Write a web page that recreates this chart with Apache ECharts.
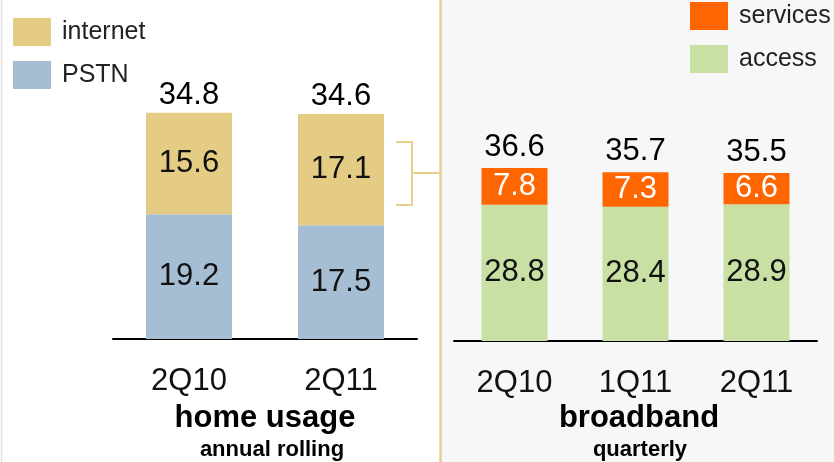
<!DOCTYPE html>
<html>
<head>
<meta charset="utf-8">
<script src="https://cdn.jsdelivr.net/npm/echarts@6/dist/echarts.min.js"></script>
<style>
  html, body { margin: 0; padding: 0; background: #fff; }
  #chart { width: 834px; height: 462px; }
</style>
</head>
<body>
<div id="chart"></div>
<script>
// home usage (annual rolling)
const homeCats = ['2Q10', '2Q11'];
const pstn = [19.2, 17.5];
const internet = [15.6, 17.1];
const homeTotals = ['34.8', '34.6'];

// broadband (quarterly)
const bbCats = ['2Q10', '1Q11', '2Q11'];
const access = [28.8, 28.4, 28.9];
const services = [7.8, 7.3, 6.6];
const bbTotals = ['36.6', '35.7', '35.5'];

const FONT = '"Liberation Sans", Arial, sans-serif';
const TAN = '#E8CF8C';

const chart = echarts.init(document.getElementById('chart'));

function totalSeries(name, axis, stack, totals) {
  return {
    name: name,
    type: 'bar',
    stack: stack,
    xAxisIndex: axis,
    yAxisIndex: axis,
    silent: true,
    itemStyle: { color: 'transparent' },
    data: totals.map(t => ({
      value: 0,
      label: { formatter: t }
    })),
    label: {
      show: true,
      position: 'top',
      distance: axis === 0 ? 2 : 5,
      fontFamily: FONT,
      fontSize: 31,
      color: '#000'
    }
  };
}

function insideLabel(color) {
  return {
    show: true,
    position: 'inside',
    fontFamily: FONT,
    fontSize: 31,
    color: color
  };
}

const catAxis = (idx, data) => ({
  type: 'category',
  gridIndex: idx,
  data: data,
  axisLine: { lineStyle: { color: '#000', width: 2 } },
  axisTick: { show: false },
  axisLabel: { margin: 27, fontFamily: FONT, fontSize: 31, color: '#111' }
});

const valAxis = idx => ({
  type: 'value',
  gridIndex: idx,
  min: 0,
  max: 50,
  show: false,
  splitLine: { show: false }
});

const legendText = { fontFamily: FONT, fontSize: 25, color: '#222', padding: [5, 0, 0, 6] };

chart.setOption({
  animation: false,
  backgroundColor: '#fff',
  grid: [
    { left: 113, width: 304, top: 14, height: 325 },
    { left: 454, width: 363, top: 104.5, height: 236.5 }
  ],
  xAxis: [catAxis(0, homeCats), catAxis(1, bbCats)],
  yAxis: [valAxis(0), valAxis(1)],
  legend: [
    {
      data: ['internet', 'PSTN'],
      orient: 'vertical',
      left: 13, top: 18, padding: 0,
      itemWidth: 38, itemHeight: 28, itemGap: 15,
      icon: 'rect',
      selectedMode: false,
      textStyle: legendText
    },
    {
      data: ['services', 'access'],
      orient: 'vertical',
      left: 690, top: 2, padding: 0,
      itemWidth: 38, itemHeight: 28, itemGap: 15,
      icon: 'rect',
      selectedMode: false,
      textStyle: legendText
    }
  ],
  series: [
    {
      name: 'PSTN', type: 'bar', stack: 'home',
      xAxisIndex: 0, yAxisIndex: 0, barWidth: 86,
      itemStyle: { color: '#A6BED3' },
      label: insideLabel('#111'),
      data: pstn
    },
    {
      name: 'internet', type: 'bar', stack: 'home',
      xAxisIndex: 0, yAxisIndex: 0, barWidth: 86,
      itemStyle: { color: '#E5CC85' },
      label: insideLabel('#111'),
      data: internet
    },
    totalSeries('homeTotal', 0, 'home', homeTotals),
    {
      name: 'access', type: 'bar', stack: 'bb',
      xAxisIndex: 1, yAxisIndex: 1, barWidth: 66,
      itemStyle: { color: '#C8E0A3' },
      label: insideLabel('#111'),
      data: access
    },
    {
      name: 'services', type: 'bar', stack: 'bb',
      xAxisIndex: 1, yAxisIndex: 1, barWidth: 66,
      itemStyle: { color: '#FF6600' },
      label: insideLabel('#fff'),
      data: services
    },
    totalSeries('bbTotal', 1, 'bb', bbTotals)
  ],
  graphic: [
    // right panel background and divider
    { type: 'rect', z: -10, silent: true, shape: { x: 440, y: 0, width: 394, height: 462 }, style: { fill: '#F7F7F7' } },
    { type: 'line', z: 1, silent: true, shape: { x1: 440.5, y1: 0, x2: 440.5, y2: 462 }, style: { stroke: TAN, lineWidth: 2.5 } },
    { type: 'line', z: 1, silent: true, shape: { x1: 1.5, y1: 0, x2: 1.5, y2: 462 }, style: { stroke: '#E2E2E2', lineWidth: 1.5 } },
    // bracket
    { type: 'polyline', z: 1, silent: true, shape: { points: [[396, 142], [412, 142], [412, 205], [396, 205]] }, style: { stroke: TAN, lineWidth: 2, fill: null } },
    { type: 'line', z: 1, silent: true, shape: { x1: 412, y1: 173, x2: 440, y2: 173 }, style: { stroke: TAN, lineWidth: 2 } },
    // panel titles
    { type: 'text', silent: true, x: 265, y: 418, style: { text: 'home usage', fontFamily: FONT, fontSize: 31, fontWeight: 'bold', fill: '#000', textAlign: 'center', textVerticalAlign: 'middle' } },
    { type: 'text', silent: true, x: 272, y: 450, style: { text: 'annual rolling', fontFamily: FONT, fontSize: 22, fontWeight: 'bold', fill: '#000', textAlign: 'center', textVerticalAlign: 'middle' } },
    { type: 'text', silent: true, x: 639, y: 418, style: { text: 'broadband', fontFamily: FONT, fontSize: 31, fontWeight: 'bold', fill: '#000', textAlign: 'center', textVerticalAlign: 'middle' } },
    { type: 'text', silent: true, x: 640, y: 450, style: { text: 'quarterly', fontFamily: FONT, fontSize: 22, fontWeight: 'bold', fill: '#000', textAlign: 'center', textVerticalAlign: 'middle' } }
  ]
});
</script>
</body>
</html>
